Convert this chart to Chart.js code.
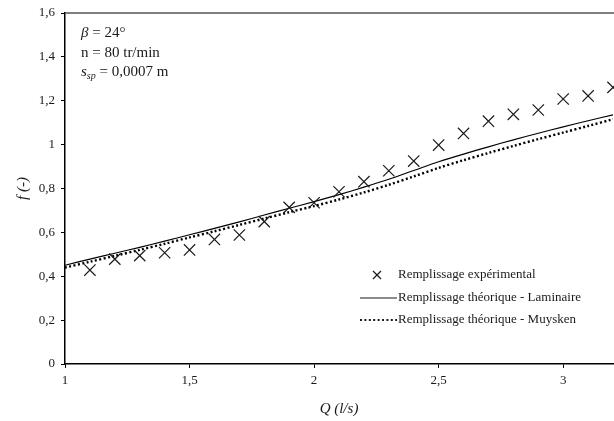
<!DOCTYPE html>
<html>
<head>
<meta charset="utf-8">
<script src="https://cdn.jsdelivr.net/npm/chart.js@4/dist/chart.umd.min.js"></script>
<style>
  html, body { margin: 0; padding: 0; background: #fff; }
  #wrap { width: 614px; height: 421px; }
</style>
</head>
<body>
<div id="wrap"><canvas id="chart" width="614" height="421"></canvas></div>
<script>
// points expérimentaux
const qExp = [1.1, 1.2, 1.3, 1.4, 1.5, 1.6, 1.7, 1.8, 1.9, 2.0, 2.1, 2.2, 2.3, 2.4, 2.5, 2.6, 2.7, 2.8, 2.9, 3.0, 3.1, 3.2];
const fExp = [0.428, 0.478, 0.494, 0.507, 0.52, 0.568, 0.588, 0.649, 0.714, 0.735, 0.785, 0.831, 0.881, 0.925, 0.998, 1.051, 1.107, 1.138, 1.158, 1.208, 1.222, 1.261];

// courbes théoriques
const qTheo = [1.0, 1.1, 1.2, 1.3, 1.4, 1.5, 1.6, 1.7, 1.8, 1.9, 2.0, 2.1, 2.2, 2.3, 2.4, 2.5, 2.6, 2.7, 2.8, 2.9, 3.0, 3.1, 3.2];
const fLaminaire = [0.450, 0.478, 0.505, 0.532, 0.560, 0.589, 0.618, 0.648, 0.679, 0.710, 0.740, 0.772, 0.806, 0.842, 0.882, 0.922, 0.957, 0.990, 1.022, 1.052, 1.081, 1.109, 1.136];
const fMuysken   = [0.440, 0.466, 0.493, 0.520, 0.548, 0.577, 0.605, 0.634, 0.663, 0.692, 0.720, 0.750, 0.782, 0.817, 0.855, 0.894, 0.929, 0.962, 0.994, 1.025, 1.055, 1.085, 1.116];

const xTicks = [1, 1.5, 2, 2.5, 3];
const xTickLabels = ["1", "1,5", "2", "2,5", "3"];
const yTicks = [0, 0.2, 0.4, 0.6, 0.8, 1.0, 1.2, 1.4, 1.6];
const yTickLabels = ["0", "0,2", "0,4", "0,6", "0,8", "1", "1,2", "1,4", "1,6"];

const seriesLabels = ["Remplissage expérimental", "Remplissage théorique - Laminaire", "Remplissage théorique - Muysken"];

const FONT = "'Liberation Serif', 'Times New Roman', serif";
const INK = "#1a1a1a";

const toXY = (xs, ys) => xs.map((x, i) => ({ x, y: ys[i] }));

// textes : titres d'axes, paramètres, légende
const extras = {
  id: "extras",
  afterDraw(chart){
    const { ctx, chartArea: a } = chart;
    ctx.save();

    // bord supérieur du cadre
    ctx.strokeStyle = "#555";
    ctx.lineWidth = 1.5;
    ctx.beginPath();
    ctx.moveTo(a.left, a.top);
    ctx.lineTo(a.right + 2, a.top);
    ctx.stroke();

    ctx.fillStyle = INK;
    ctx.textBaseline = "middle";

    // titres d'axes
    ctx.font = `italic 15px ${FONT}`;
    ctx.textAlign = "center";
    ctx.fillText("Q (l/s)", (a.left + a.right) / 2, 409);
    ctx.save();
    ctx.translate(23, (a.top + a.bottom) / 2);
    ctx.rotate(-Math.PI / 2);
    ctx.fillText("f (-)", 0, 0);
    ctx.restore();

    // paramètres
    ctx.textAlign = "left";
    let x = 81;
    ctx.font = `italic 15px ${FONT}`;
    ctx.fillText("β", x, 33);
    x += ctx.measureText("β").width;
    ctx.font = `15px ${FONT}`;
    ctx.fillText(" = 24°", x, 33);

    ctx.fillText("n = 80 tr/min", 81, 53);

    x = 81;
    ctx.font = `italic 15px ${FONT}`;
    ctx.fillText("s", x, 72);
    x += ctx.measureText("s").width;
    ctx.font = `italic 10px ${FONT}`;
    ctx.fillText("sp", x, 76);
    x += ctx.measureText("sp").width;
    ctx.font = `15px ${FONT}`;
    ctx.fillText(" = 0,0007 m", x, 72);

    // légende
    const lx = 360, lx2 = 397, tx = 398;
    const rows = [275, 298, 320];
    ctx.font = `13px ${FONT}`;

    ctx.strokeStyle = INK;
    ctx.lineWidth = 1.2;
    ctx.beginPath();
    ctx.moveTo(373, rows[0] - 4); ctx.lineTo(381, rows[0] + 4);
    ctx.moveTo(381, rows[0] - 4); ctx.lineTo(373, rows[0] + 4);
    ctx.stroke();
    ctx.fillText(seriesLabels[0], tx, rows[0]);

    ctx.lineWidth = 1.2;
    ctx.beginPath();
    ctx.moveTo(lx, rows[1]); ctx.lineTo(lx2, rows[1]);
    ctx.stroke();
    ctx.fillText(seriesLabels[1], tx, rows[1]);

    ctx.lineWidth = 2.2;
    ctx.setLineDash([2, 2.4]);
    ctx.beginPath();
    ctx.moveTo(lx, rows[2]); ctx.lineTo(lx2, rows[2]);
    ctx.stroke();
    ctx.setLineDash([]);
    ctx.fillText(seriesLabels[2], tx, rows[2]);

    ctx.restore();
  }
};

new Chart(document.getElementById("chart"), {
  type: "scatter",
  data: {
    datasets: [
      {
        label: seriesLabels[0],
        data: toXY(qExp, fExp),
        pointStyle: "crossRot",
        pointRadius: 8,
        pointBorderWidth: 1.2,
        borderColor: INK,
        backgroundColor: INK,
        showLine: false,
        clip: false,
        order: 0,
      },
      {
        label: seriesLabels[1],
        data: toXY(qTheo, fLaminaire),
        showLine: true,
        borderColor: "#000",
        borderWidth: 1.2,
        pointRadius: 0,
        tension: 0.3,
        order: 1,
      },
      {
        label: seriesLabels[2],
        data: toXY(qTheo, fMuysken),
        showLine: true,
        borderColor: "#000",
        borderWidth: 2.4,
        borderDash: [2, 2.4],
        pointRadius: 0,
        tension: 0.3,
        order: 2,
      },
    ],
  },
  options: {
    responsive: false,
    animation: false,
    layout: { autoPadding: false, padding: { top: 13, right: 1, left: 0, bottom: 0 } },
    plugins: { legend: { display: false }, tooltip: { enabled: false } },
    scales: {
      x: {
        type: "linear",
        min: 1,
        max: 3.2,
        afterBuildTicks: s => { s.ticks = xTicks.map(v => ({ value: v })); },
        afterFit: s => { s.height = 57; s.paddingLeft = 0; s.paddingRight = 0; },
        ticks: {
          callback: (v, i) => xTickLabels[i],
          color: INK,
          font: { family: FONT, size: 13 },
          padding: 5,
          maxRotation: 0,
        },
        grid: { drawOnChartArea: false, color: "#000", tickLength: 4, lineWidth: 1 },
        border: { color: "#000", width: 1.5 },
      },
      y: {
        type: "linear",
        min: 0,
        max: 1.6,
        afterBuildTicks: s => { s.ticks = yTicks.map(v => ({ value: v })); },
        afterFit: s => { s.width = 65; s.paddingTop = 0; s.paddingBottom = 0; },
        ticks: {
          callback: (v, i) => yTickLabels[i],
          color: INK,
          font: { family: FONT, size: 13 },
          padding: 6,
        },
        grid: { drawOnChartArea: false, color: "#000", tickLength: 4, lineWidth: 1 },
        border: { color: "#000", width: 1.5 },
      },
    },
  },
  plugins: [extras],
});
</script>
</body>
</html>
